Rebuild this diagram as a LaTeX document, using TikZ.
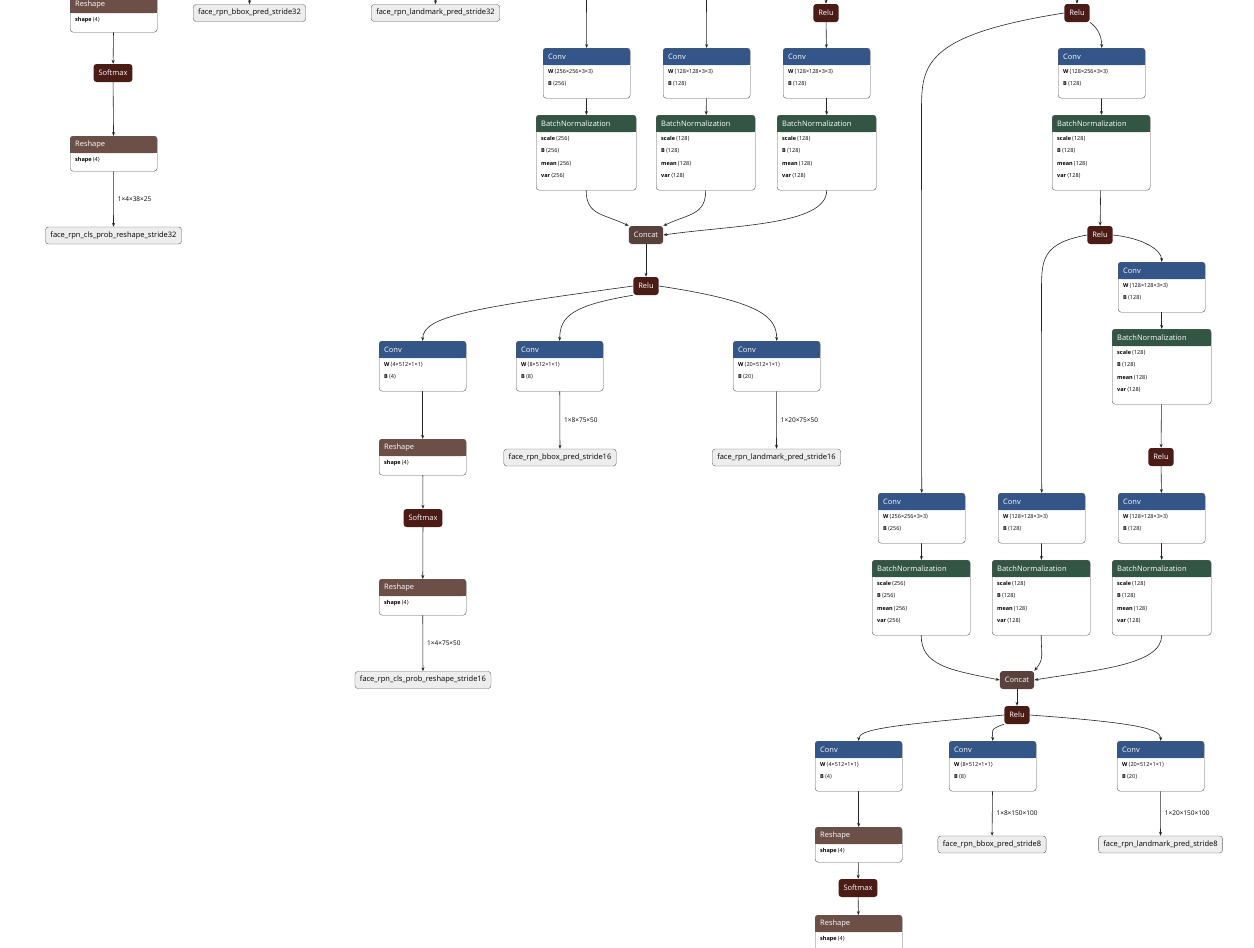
\documentclass[tikz,border=0pt]{standalone}
\usepackage{fontspec}
\setmainfont{Open Sans}
\newfontfamily\dv{DejaVu Sans}
\usetikzlibrary{arrows.meta}
\definecolor{cconv}{RGB}{51,85,136}
\definecolor{cbn}{RGB}{51,85,68}
\definecolor{cresh}{RGB}{108,79,71}
\definecolor{crelu}{RGB}{75,27,22}
\definecolor{ccat}{RGB}{89,66,59}
\newcommand\attr[2]{\textbf{#1}\,{\dv⟨}#2{\dv⟩}}
\newcommand\opbox[8]{%
 \path[fill=white,rounded corners=3pt] (#2,#3) rectangle ++(#4,#5);
 \path[fill=#6,rounded corners=3pt] (#2,#3) rectangle ++(#4,17);
 \fill[#6] (#2,{#3+9}) rectangle ++(#4,8);
 \node[inner sep=0,minimum width=#4pt,minimum height=#5pt,anchor=north west,draw=black!65,rounded corners=3pt] (#1) at (#2,#3) {};
 \node[anchor=west,text=white,font=\fontsize{7.5}{9}\selectfont,inner sep=0] at ([xshift=5pt,yshift=-8.5pt]#1.north west) {#7};
 \node[anchor=north west,align=left,font=\fontsize{5.5}{12.5}\selectfont,inner sep=0] at ([xshift=5pt,yshift=-21pt]#1.north west) {#8};
}
\tikzset{x=1pt,y=-1pt,
 pill/.style={rounded corners=3pt,text=white,minimum height=18pt,inner xsep=5pt,inner ysep=0pt,font=\fontsize{7.5}{9}\selectfont},
 outn/.style={rounded corners=3pt,draw=black!60,fill=black!7,minimum height=17pt,inner xsep=5pt,inner ysep=0pt,font=\fontsize{7.5}{9}\selectfont},
 edge/.style={draw=black!85,line width=0.6pt,-{Stealth[length=4pt,width=3pt]}},
 elab/.style={font=\fontsize{6.5}{8}\selectfont,anchor=west,inner sep=0}}
\begin{document}
\begin{tikzpicture}
\fill[white] (0,0) rectangle (1254,948);
\useasboundingbox (0,0) rectangle (1254,948);
% ---- left top
\opbox{rsA}{70}{-4}{87}{36}{cresh}{Reshape}{\attr{shape}{4}}
\node[pill,fill=crelu] (smA) at (113,73) {Softmax};
\opbox{rsB}{70}{136}{87}{35}{cresh}{Reshape}{\attr{shape}{4}}
\node[outn] (oA) at (113.5,235.5) {face\_rpn\_cls\_prob\_reshape\_stride32};
\draw[edge] (rsA) -- (smA);
\draw[edge] (smA) -- (rsB);
\draw[edge] (rsB) -- node[elab,right=4pt]{1×4×38×25} (oA);
\node[outn] (oB) at (249.5,13) {face\_rpn\_bbox\_pred\_stride32};
\node[outn] (oC) at (435.5,13) {face\_rpn\_landmark\_pred\_stride32};
\coordinate (tB) at (249.5,-5); \coordinate (tC) at (435.5,-5);
\draw[edge] (tB) -- (oB); \draw[edge] (tC) -- (oC);
% ---- middle
\coordinate (t1) at (586.5,-5); \coordinate (t2) at (706.5,-5);
\node[pill,fill=crelu] (rM0) at (826,13) {Relu};
\coordinate (t3) at (826,-5);
\opbox{c1}{543}{48}{87}{50}{cconv}{Conv}{\attr{W}{256×256×3×3}\\\attr{B}{256}}
\opbox{c2}{663}{48}{87}{50}{cconv}{Conv}{\attr{W}{128×128×3×3}\\\attr{B}{128}}
\opbox{c3}{783}{48}{87}{50}{cconv}{Conv}{\attr{W}{128×128×3×3}\\\attr{B}{128}}
\draw[edge] (t1) -- (c1); \draw[edge] (t2) -- (c2);
\draw[edge] (t3) -- (rM0); \draw[edge] (rM0) -- (c3);
\opbox{b1}{536}{115}{100}{75}{cbn}{BatchNormalization}{\attr{scale}{256}\\\attr{B}{256}\\\attr{mean}{256}\\\attr{var}{256}}
\opbox{b2}{656}{115}{99}{75}{cbn}{BatchNormalization}{\attr{scale}{128}\\\attr{B}{128}\\\attr{mean}{128}\\\attr{var}{128}}
\opbox{b3}{777}{115}{99}{75}{cbn}{BatchNormalization}{\attr{scale}{128}\\\attr{B}{128}\\\attr{mean}{128}\\\attr{var}{128}}
\draw[edge] (c1) -- (b1); \draw[edge] (c2) -- (b2); \draw[edge] (c3) -- (b3);
\node[pill,fill=ccat] (cat1) at (646,235) {Concat};
\draw[edge] (b1.south) .. controls +(0,25) and +(-25,-12) .. (cat1.north west);
\draw[edge] (b2.south) .. controls +(0,25) and +(25,-12) .. (cat1.north east);
\draw[edge] (b3.south) .. controls +(0,35) and +(70,-10) .. (cat1.east);
\node[pill,fill=crelu] (rM1) at (646,286) {Relu};
\draw[edge] (cat1) -- (rM1);
\opbox{d1}{379}{341}{87}{50}{cconv}{Conv}{\attr{W}{4×512×1×1}\\\attr{B}{4}}
\opbox{d2}{516}{341}{87}{50}{cconv}{Conv}{\attr{W}{8×512×1×1}\\\attr{B}{8}}
\opbox{d3}{733}{341}{87}{50}{cconv}{Conv}{\attr{W}{20×512×1×1}\\\attr{B}{20}}
\draw[edge] (rM1.west) .. controls +(-160,22) and +(0,-25) .. (d1.north);
\draw[edge] (rM1.south west) .. controls +(-60,10) and +(0,-25) .. (d2.north);
\draw[edge] (rM1.east) .. controls +(100,15) and +(0,-25) .. (d3.north);
\node[outn] (o16b) at (560,457.5) {face\_rpn\_bbox\_pred\_stride16};
\node[outn] (o16l) at (776.5,457.5) {face\_rpn\_landmark\_pred\_stride16};
\draw[edge] (d2) -- node[elab,right=4pt]{1×8×75×50} (o16b);
\draw[edge] (d3) -- node[elab,right=4pt]{1×20×75×50} (o16l);
\opbox{r1}{379}{439}{87}{36}{cresh}{Reshape}{\attr{shape}{4}}
\node[pill,fill=crelu] (sm1) at (423,518) {Softmax};
\opbox{r2}{379}{579}{87}{36}{cresh}{Reshape}{\attr{shape}{4}}
\node[outn] (o16c) at (423,680) {face\_rpn\_cls\_prob\_reshape\_stride16};
\draw[edge] (d1) -- (r1); \draw[edge] (r1) -- (sm1); \draw[edge] (sm1) -- (r2);
\draw[edge] (r2) -- node[elab,right=4pt]{1×4×75×50} (o16c);
% ---- right
\coordinate (t4) at (1077,-5);
\node[pill,fill=crelu] (rR0) at (1077,13) {Relu};
\draw[edge] (t4) -- (rR0);
\opbox{e1}{1058}{48}{87}{50}{cconv}{Conv}{\attr{W}{128×256×3×3}\\\attr{B}{128}}
\opbox{f1}{1052}{115}{98}{75}{cbn}{BatchNormalization}{\attr{scale}{128}\\\attr{B}{128}\\\attr{mean}{128}\\\attr{var}{128}}
\draw[edge] (rR0.south east) .. controls +(8,6) and +(0,-12) .. (e1.north);
\draw[edge] (e1) -- (f1);
\node[pill,fill=crelu] (rR1) at (1100,235) {Relu};
\draw[edge] (f1) -- (rR1);
\opbox{e2}{1118}{262}{87}{50}{cconv}{Conv}{\attr{W}{128×128×3×3}\\\attr{B}{128}}
\opbox{f2}{1112}{329}{99}{75}{cbn}{BatchNormalization}{\attr{scale}{128}\\\attr{B}{128}\\\attr{mean}{128}\\\attr{var}{128}}
\draw[edge] (rR1.east) .. controls +(30,3) and +(0,-12) .. (e2.north);
\draw[edge] (e2) -- (f2);
\node[pill,fill=crelu] (rR2) at (1161,457) {Relu};
\draw[edge] (f2) -- (rR2);
\opbox{g1}{878}{493}{87}{50}{cconv}{Conv}{\attr{W}{256×256×3×3}\\\attr{B}{256}}
\opbox{g2}{998}{493}{87}{50}{cconv}{Conv}{\attr{W}{128×128×3×3}\\\attr{B}{128}}
\opbox{g3}{1118}{493}{87}{50}{cconv}{Conv}{\attr{W}{128×128×3×3}\\\attr{B}{128}}
\coordinate (k1) at (921.5,110);
\coordinate (k2) at (1041.5,290);
\draw[edge] (rR0.west) .. controls +(-140,22) and +(0,-45) .. (k1) -- (g1.north);
\draw[edge] (rR1.west) .. controls +(-45,8) and +(0,-30) .. (k2) -- (g2.north);
\draw[edge] (rR2) -- (g3);
\opbox{h1}{872}{560}{98}{75}{cbn}{BatchNormalization}{\attr{scale}{256}\\\attr{B}{256}\\\attr{mean}{256}\\\attr{var}{256}}
\opbox{h2}{992}{560}{98}{75}{cbn}{BatchNormalization}{\attr{scale}{128}\\\attr{B}{128}\\\attr{mean}{128}\\\attr{var}{128}}
\opbox{h3}{1112}{560}{99}{75}{cbn}{BatchNormalization}{\attr{scale}{128}\\\attr{B}{128}\\\attr{mean}{128}\\\attr{var}{128}}
\draw[edge] (g1) -- (h1); \draw[edge] (g2) -- (h2); \draw[edge] (g3) -- (h3);
\node[pill,fill=ccat] (cat2) at (1017,680) {Concat};
\draw[edge] (h1.south) .. controls +(0,30) and +(-50,-10) .. (cat2.west);
\draw[edge] (h2.south) .. controls +(0,20) and +(10,-12) .. (cat2.north east);
\draw[edge] (h3.south) .. controls +(0,30) and +(60,-10) .. (cat2.east);
\node[pill,fill=crelu] (rR3) at (1017,715) {Relu};
\draw[edge] (cat2) -- (rR3);
\opbox{m1}{815}{741}{87}{50}{cconv}{Conv}{\attr{W}{4×512×1×1}\\\attr{B}{4}}
\opbox{m2}{949}{741}{87}{50}{cconv}{Conv}{\attr{W}{8×512×1×1}\\\attr{B}{8}}
\opbox{m3}{1117}{741}{87}{50}{cconv}{Conv}{\attr{W}{20×512×1×1}\\\attr{B}{20}}
\draw[edge] (rR3.west) .. controls +(-110,10) and +(0,-12) .. (m1.north);
\draw[edge] (rR3.south west) .. controls +(-15,5) and +(0,-10) .. (m2.north);
\draw[edge] (rR3.east) .. controls +(110,8) and +(0,-12) .. (m3.north);
\node[outn] (o8b) at (992,844.5) {face\_rpn\_bbox\_pred\_stride8};
\node[outn] (o8l) at (1160.5,844.5) {face\_rpn\_landmark\_pred\_stride8};
\draw[edge] (m2) -- node[elab,right=4pt]{1×8×150×100} (o8b);
\draw[edge] (m3) -- node[elab,right=4pt]{1×20×150×100} (o8l);
\opbox{n1}{815}{827}{87}{35}{cresh}{Reshape}{\attr{shape}{4}}
\node[pill,fill=crelu] (sm2) at (858,888) {Softmax};
\opbox{n2}{815}{915}{87}{36}{cresh}{Reshape}{\attr{shape}{4}}
\draw[edge] (m1) -- (n1); \draw[edge] (n1) -- (sm2); \draw[edge] (sm2) -- (n2);
\end{tikzpicture}
\end{document}
